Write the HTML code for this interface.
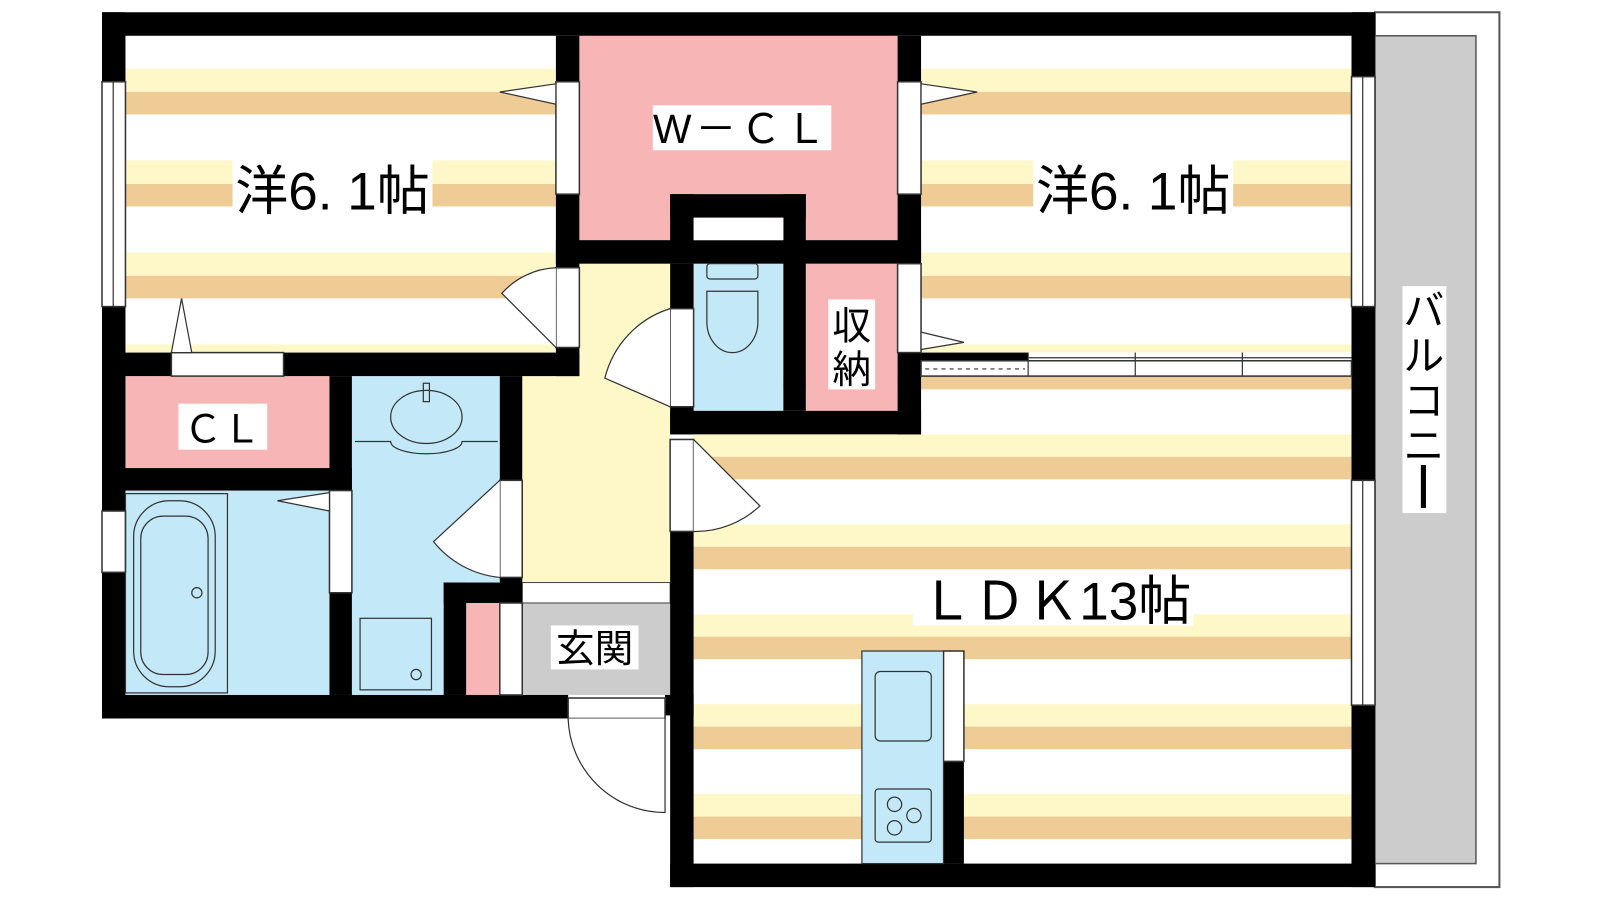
<!DOCTYPE html>
<html><head><meta charset="utf-8"><style>
html,body{margin:0;padding:0;background:#fff;width:1600px;height:900px;overflow:hidden}
svg{display:block}
text{font-family:"Liberation Sans","Noto Sans CJK JP",sans-serif;fill:#000}
</style></head><body>
<svg width="1600" height="900" viewBox="0 0 1600 900" xmlns="http://www.w3.org/2000/svg">
<defs>
<pattern id="st" x="0" y="67" width="10" height="90" patternUnits="userSpaceOnUse">
<rect width="10" height="90" fill="#fff"/><rect y="0" width="10" height="23" fill="#fef8c8"/><rect y="23" width="10" height="22" fill="#efcc96"/>
</pattern>
<pattern id="st2" x="0" y="425" width="10" height="88" patternUnits="userSpaceOnUse">
<rect width="10" height="88" fill="#fff"/><rect y="0" width="10" height="22" fill="#fef8c8"/><rect y="22" width="10" height="22" fill="#efcc96"/>
</pattern>
</defs>
<g transform="scale(1.02 1.022)">
<rect x="1348" y="12" width="122" height="856" fill="#fff" stroke="#555" stroke-width="2"/>
<rect x="1348" y="35" width="99" height="810" fill="#cccccc" stroke="#555" stroke-width="1.5"/>
<rect x="1375" y="280" width="43" height="222" fill="#fff"/>
<text x="1396" y="318" font-size="40" text-anchor="middle">バ</text>
<text x="1396" y="362" font-size="40" text-anchor="middle">ル</text>
<text x="1396" y="406" font-size="40" text-anchor="middle">コ</text>
<text x="1396" y="450" font-size="40" text-anchor="middle">ニ</text>
<rect x="1393" y="455" width="5" height="42" fill="#000"/>
<rect x="123" y="35" width="422" height="310" fill="url(#st)"/>
<rect x="903" y="35" width="422" height="310" fill="url(#st)"/>
<rect x="680" y="368" width="645" height="477" fill="url(#st2)"/>
<rect x="568" y="35" width="312" height="200" fill="#f8b5b6"/>
<rect x="568" y="258" width="89" height="332" fill="#fef8c8"/>
<rect x="512" y="368" width="145" height="202" fill="#fef8c8"/>
<rect x="680" y="258" width="88" height="144" fill="#c3e8f8"/>
<rect x="790" y="258" width="90" height="144" fill="#f8b5b6"/>
<rect x="123" y="368" width="200" height="90" fill="#f8b5b6"/>
<rect x="123" y="480" width="200" height="200" fill="#c3e8f8"/>
<rect x="345" y="368" width="145" height="312" fill="#c3e8f8"/>
<rect x="457" y="590" width="33" height="90" fill="#f8b5b6"/>
<rect x="512" y="590" width="145" height="90" fill="#cccccc"/>
<rect x="512" y="570" width="145" height="20" fill="#fff" stroke="#444" stroke-width="1"/>
<g fill="#000">
<rect x="100" y="12" width="1248" height="23"/>
<rect x="100" y="12" width="23" height="691"/>
<rect x="100" y="680" width="457" height="23"/>
<rect x="1325" y="12" width="23" height="856"/>
<rect x="657" y="845" width="691" height="23"/>
<rect x="657" y="520" width="23" height="348"/>
<rect x="545" y="35" width="23" height="333"/>
<rect x="100" y="345" width="468" height="23"/>
<rect x="545" y="235" width="358" height="23"/>
<rect x="880" y="35" width="23" height="390"/>
<rect x="657" y="190" width="133" height="23"/>
<rect x="657" y="190" width="23" height="68"/>
<rect x="768" y="190" width="22" height="212"/>
<rect x="657" y="258" width="23" height="167"/>
<rect x="657" y="402" width="246" height="23"/>
<rect x="323" y="368" width="22" height="312"/>
<rect x="100" y="458" width="245" height="22"/>
<rect x="490" y="368" width="22" height="222"/>
<rect x="435" y="570" width="77" height="20"/>
<rect x="435" y="570" width="22" height="110"/>
<rect x="652" y="680" width="28" height="20"/>
<rect x="903" y="345" width="105" height="8"/>
<rect x="925" y="745" width="20" height="100"/>
</g>
<rect x="680" y="213" width="88" height="22" fill="#fff"/>
<g fill="#fff" stroke="#333" stroke-width="1.5">
<rect x="545" y="80" width="23" height="110"/>
<rect x="545" y="262" width="23" height="78"/>
<rect x="880" y="80" width="23" height="110"/>
<rect x="880" y="258" width="23" height="87"/>
<rect x="657" y="302" width="23" height="96"/>
<rect x="657" y="430" width="23" height="90"/>
<rect x="168" y="345" width="110" height="23"/>
<rect x="323" y="480" width="22" height="100"/>
<rect x="490" y="470" width="22" height="95"/>
<rect x="490" y="590" width="22" height="90"/>
<rect x="557" y="683" width="95" height="20"/>
<rect x="100" y="80" width="23" height="220"/>
<rect x="100" y="500" width="23" height="60"/>
<rect x="1325" y="75" width="23" height="225"/>
<rect x="1325" y="470" width="23" height="220"/>
<rect x="903" y="353" width="422" height="15"/>
<rect x="925" y="637" width="20" height="108"/>
</g>
<g stroke="#333" stroke-width="1.2" fill="none">
<line x1="111" y1="80" x2="111" y2="300"/><line x1="1336" y1="75" x2="1336" y2="300"/><line x1="1336" y1="470" x2="1336" y2="690"/>
<line x1="1008" y1="345" x2="1008" y2="368"/><line x1="1113" y1="345" x2="1113" y2="368"/><line x1="1218" y1="345" x2="1218" y2="368"/>
<line x1="1008" y1="350" x2="1325" y2="350"/>
<line x1="907" y1="361" x2="1005" y2="361" stroke-dasharray="4,4"/>
<path d="M545 340 L492 287 A75 75 0 0 1 545 262" fill="#fff"/>
<path d="M657 398 L593 370 A95 95 0 0 1 657 302" fill="#fff"/>
<path d="M680 430 L745 495 A92 92 0 0 1 680 520" fill="#fff"/>
<path d="M490 470 L425 530 A95 95 0 0 0 490 565" fill="#fff"/>
<path d="M652 703 L652 795 A95 95 0 0 1 557 703" fill="#fff"/>
<path d="M545 82 L490 90 L545 102 Z" fill="#fff"/>
<path d="M903 82 L958 90 L903 102 Z" fill="#fff"/>
<path d="M903 325 L945 335 L903 342 Z" fill="#fff"/>
<path d="M168 345 L178 292 L188 345 Z" fill="#fff"/>
<path d="M323 482 L272 490 L323 500 Z" fill="#fff"/>
<rect x="693" y="258" width="50" height="15" rx="3"/>
<path d="M693 285 h50 v30 a25 30 0 0 1 -50 0 Z"/>
<path d="M348 432 h35 a35 12 0 0 0 70 0 h35"/>
<ellipse cx="418" cy="408" rx="35" ry="26"/>
<rect x="415" y="375" width="6" height="18"/>
<rect x="123" y="483" width="100" height="195"/>
<rect x="131" y="490" width="80" height="182" rx="35"/>
<rect x="138" y="505" width="66" height="155" rx="22"/>
<circle cx="193" cy="580" r="5"/>
<rect x="353" y="605" width="70" height="70"/>
<circle cx="408" cy="660" r="5"/>
<rect x="845" y="637" width="80" height="208" fill="#c3e8f8"/>
<rect x="858" y="657" width="55" height="68" rx="5"/>
<rect x="858" y="772" width="55" height="52" rx="3"/>
<circle cx="877" cy="787" r="7"/><circle cx="896" cy="798" r="7"/><circle cx="877" cy="810" r="7"/>
</g>
<rect x="640" y="103" width="175" height="44" fill="#fff"/>
<text x="727" y="140" font-size="40" text-anchor="middle" letter-spacing="4">W－ＣＬ</text>
<rect x="228" y="155" width="196" height="55" fill="#fff"/>
<text x="326" y="205" font-size="52" text-anchor="middle">洋6. 1帖</text>
<rect x="1013" y="155" width="196" height="55" fill="#fff"/>
<text x="1111" y="205" font-size="52" text-anchor="middle">洋6. 1帖</text>
<rect x="812" y="293" width="46" height="88" fill="#fff"/>
<text x="835" y="332" font-size="38" text-anchor="middle">収</text>
<text x="835" y="375" font-size="38" text-anchor="middle">納</text>
<rect x="175" y="395" width="87" height="45" fill="#fff"/>
<text x="218" y="433" font-size="38" text-anchor="middle">ＣＬ</text>
<rect x="540" y="612" width="86" height="43" fill="#fff"/>
<text x="583" y="648" font-size="38" text-anchor="middle">玄関</text>
<rect x="895" y="560" width="275" height="52" fill="#fff"/>
<text x="1035" y="606" font-size="52" text-anchor="middle">ＬＤＫ13帖</text>
</g>
</svg>
</body></html>
